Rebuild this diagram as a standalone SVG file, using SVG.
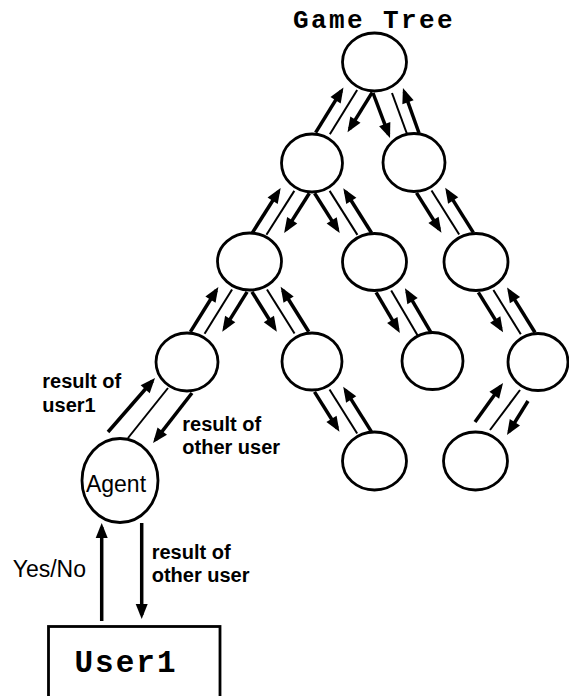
<svg xmlns="http://www.w3.org/2000/svg" width="569" height="696" viewBox="0 0 569 696">
<style>
.node{fill:#fff;stroke:#000;stroke-width:2.8}
.arrow{stroke:#000;stroke-width:3.5;fill:none}
.thin{stroke:#000;stroke-width:2;fill:none}
.lbl{font-family:"Liberation Sans",Arial,sans-serif;font-weight:bold;font-size:20px}
.plain{font-family:"Liberation Sans",Arial,sans-serif;font-size:23px}
.mono{font-family:"Liberation Mono","Courier New",monospace;font-weight:bold}
</style>
<defs>
  <marker id="head" markerUnits="userSpaceOnUse" markerWidth="16" markerHeight="12" refX="11" refY="6" orient="auto" overflow="visible">
    <path d="M0,0 L15,6 L0,12 z" fill="#000"/>
  </marker>
  <!-- one parent/child link drawn pointing straight down: reply arrow (outer), thin rule, move arrow (inner) -->
  <g id="link">
    <line class="arrow" x1="-13" y1="91" x2="-13" y2="42" marker-end="url(#head)"/>
    <line class="thin" x1="0" y1="33" x2="0" y2="85"/>
    <line class="arrow" x1="14" y1="27" x2="14" y2="70" marker-end="url(#head)"/>
  </g>
</defs>

<rect width="569" height="696" fill="#fff"/>

<text class="mono" x="374" y="28" font-size="26" letter-spacing="2.4" text-anchor="middle">Game Tree</text>

<g id="connectors">
  <use href="#link" transform="translate(374.5,62) rotate(31.7)"/>
  <line class="arrow" x1="373" y1="93" x2="388.6" y2="134.3" marker-end="url(#head)"/>
  <line class="thin" x1="392" y1="93" x2="407" y2="134"/>
  <line class="arrow" x1="419" y1="133" x2="404.3" y2="91.8" marker-end="url(#head)"/>
  <use href="#link" transform="translate(312,163) rotate(32.4)"/>
  <use href="#link" transform="translate(312,163) rotate(-32.3) scale(-1,1)"/>
  <use href="#link" transform="translate(414,162.5) rotate(-32.1) scale(-1,1)"/>
  <use href="#link" transform="translate(249.5,261.5) rotate(31.9)"/>
  <use href="#link" transform="translate(249.5,261.5) rotate(-32) scale(-1,1)"/>
  <use href="#link" transform="translate(374.5,262) rotate(-30.4) scale(-1,1)"/>
  <use href="#link" transform="translate(476,262) rotate(-31.8) scale(-1,1)"/>
  <use href="#link" transform="translate(312,361.5) rotate(-32.1) scale(-1,1)"/>
  <line class="arrow" x1="475" y1="422" x2="500.7" y2="386.2" marker-end="url(#head)"/>
  <line class="thin" x1="520" y1="390" x2="490" y2="430"/>
  <line class="arrow" x1="528" y1="401" x2="509.1" y2="431.6" marker-end="url(#head)"/>
  <!-- agent to the first move -->
  <line class="arrow" x1="108" y1="432" x2="152.4" y2="381" marker-end="url(#head)"/>
  <line class="thin" x1="128" y1="438" x2="168" y2="388"/>
  <line class="arrow" x1="192" y1="393" x2="155.5" y2="439.8" marker-end="url(#head)"/>
  <!-- agent and user -->
  <line class="arrow" x1="101.7" y1="621" x2="101.7" y2="527" marker-end="url(#head)"/>
  <line class="arrow" x1="141.7" y1="523" x2="141.7" y2="615" marker-end="url(#head)"/>
</g>

<g id="n-root"><ellipse class="node" cx="374.5" cy="62" rx="32" ry="29"/></g>
<g id="n-a1"><ellipse class="node" cx="312" cy="163" rx="30.5" ry="29"/></g>
<g id="n-b1"><ellipse class="node" cx="414" cy="162.5" rx="31" ry="29"/></g>
<g id="n-a2"><ellipse class="node" cx="249.5" cy="261.5" rx="32" ry="28.5"/></g>
<g id="n-b2"><ellipse class="node" cx="374.5" cy="262" rx="32" ry="28.5"/></g>
<g id="n-c2"><ellipse class="node" cx="476" cy="262" rx="32" ry="28.5"/></g>
<g id="n-a3"><ellipse class="node" cx="187" cy="362" rx="31" ry="29"/></g>
<g id="n-b3"><ellipse class="node" cx="312" cy="361.5" rx="30" ry="28.5"/></g>
<g id="n-c3"><ellipse class="node" cx="432.5" cy="361" rx="30.5" ry="28.5"/></g>
<g id="n-d3"><ellipse class="node" cx="538" cy="362" rx="30" ry="28.5"/></g>
<g id="n-b4"><ellipse class="node" cx="374.5" cy="461" rx="32" ry="29"/></g>
<g id="n-d4"><ellipse class="node" cx="475.5" cy="461" rx="32" ry="29"/></g>

<g id="n-agent">
  <ellipse class="node" cx="120" cy="480.5" rx="38" ry="42"/>
  <text class="plain" x="116" y="491.7" text-anchor="middle">Agent</text>
</g>

<g id="n-user1">
  <rect class="node" x="48.5" y="626.5" width="171.5" height="80"/>
  <text class="mono" x="126" y="672" font-size="31" letter-spacing="2" text-anchor="middle">User1</text>
</g>

<g id="labels">
  <text class="lbl" x="42.3" y="388">result of</text>
  <text class="lbl" x="42.3" y="411.7">user1</text>
  <text class="lbl" x="182.3" y="431">result of</text>
  <text class="lbl" x="182.3" y="454.3">other user</text>
  <text class="lbl" x="151.7" y="559.3">result of</text>
  <text class="lbl" x="151.7" y="582">other user</text>
  <text class="plain" x="12.7" y="576.7">Yes/No</text>
</g>
</svg>
